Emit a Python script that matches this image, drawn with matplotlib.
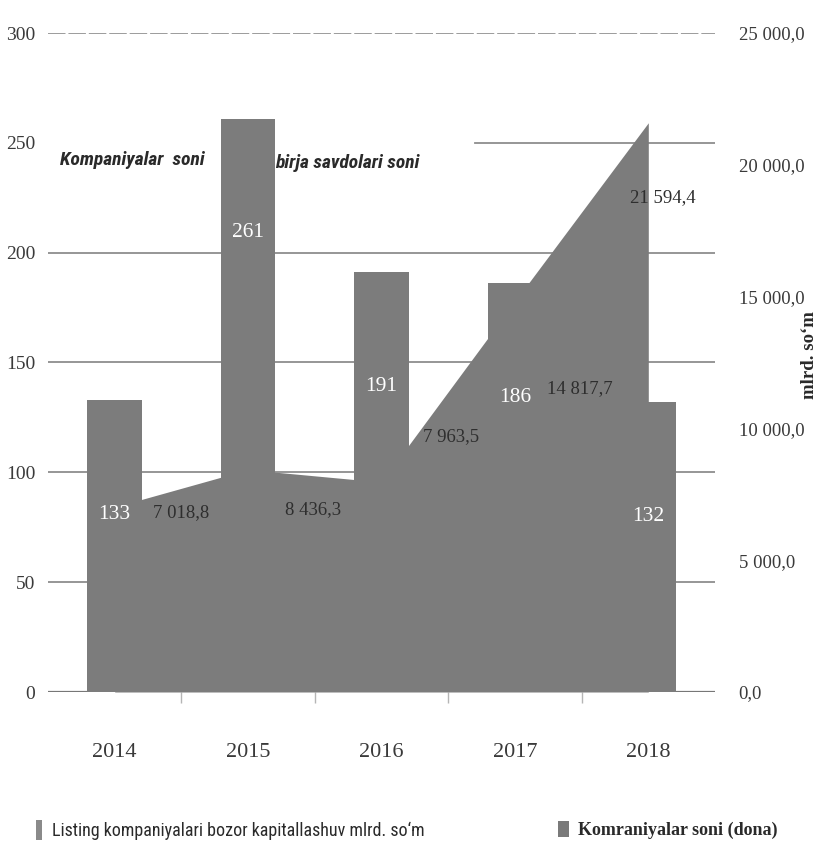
import numpy as np
import matplotlib
matplotlib.use("Agg")
import matplotlib.pyplot as plt
from matplotlib.ticker import FuncFormatter
from matplotlib.patches import Patch

# ---- data -------------------------------------------------------------
years = ["2014", "2015", "2016", "2017", "2018"]
companies = [133, 261, 191, 186, 132]                        # Kompaniyalar soni (dona)
market_cap = [7018.8, 8436.3, 7963.5, 14817.7, 21594.4]      # mlrd. so'm
left_ticks = [0, 50, 100, 150, 200, 250, 300]
right_ticks = [0, 5000, 10000, 15000, 20000, 25000]

# ---- label placement (offsets from the marks) ------------------------
bar_label_dy = -52                                    # left-axis units
cap_label_dx = [0.50, 0.49, 0.52, 0.49, 0.11]         # category units
cap_label_dy = [-230, -1530, 1710, -3290, -2820]      # right-axis units

GRAY = "#7c7c7c"
GRID = "#8e8e8e"
TXT = "#3a3a3a"
SERIF = ["DejaVu Serif Condensed", "Liberation Serif", "DejaVu Serif"]
SANS = ["Liberation Sans Narrow", "Roboto Condensed", "DejaVu Sans Condensed",
        "Open Sans", "DejaVu Sans"]


def fmt_num(v, decimals=1):
    s = f"{v:,.{decimals}f}"
    return s.replace(",", " ").replace(".", ",")


fig = plt.figure(figsize=(8.23, 8.47), dpi=100)
ax = fig.add_axes([48 / 823, 155 / 847, 667 / 823, 659 / 847])
ax2 = ax.twinx()

x = np.arange(len(years))

# bars: number of listed companies (left axis)
bars = ax.bar(x, companies, width=0.41, color=GRAY, zorder=2)
ax.set_xlim(-0.5, len(years) - 0.5)
ax.set_ylim(left_ticks[0], left_ticks[-1])

# area: market capitalisation (right axis)
area = ax2.fill_between(x, market_cap, color=GRAY, lw=0)
ax2.set_ylim(right_ticks[0], right_ticks[-1])

# horizontal gridlines
ax.set_yticks(left_ticks)
for v in left_ticks:
    if v == 0:
        ax.axhline(v, color="#777777", lw=1.6, zorder=1)
    elif v == 250:
        ax.axhline(v, xmin=0.64, color=GRID, lw=1.3, zorder=1)
    elif v == 300:
        ax.axhline(v, color="#9c9c9c", lw=1.4, ls=(0, (9, 1.5)), zorder=1)
    else:
        ax.axhline(v, color=GRID, lw=1.3, zorder=1)

for a in (ax, ax2):
    for sp in a.spines.values():
        sp.set_visible(False)
    a.patch.set_visible(False)

# axis ticks and labels
ax.tick_params(axis="y", length=0, pad=9, labelcolor=TXT)
for t in ax.get_yticklabels():
    t.set_fontfamily(SERIF)
    t.set_fontsize(14)

ax2.set_yticks(right_ticks)
ax2.yaxis.set_major_formatter(FuncFormatter(lambda v, p: fmt_num(v)))
ax2.tick_params(axis="y", length=0, pad=17, labelcolor=TXT)
for t in ax2.get_yticklabels():
    t.set_fontfamily(SERIF)
    t.set_fontsize(13.5)

ax.set_xticks(x, years)
ax.set_xticks(x[:-1] + 0.5, minor=True)
ax.tick_params(axis="x", which="major", length=0, pad=37, labelcolor=TXT)
ax.tick_params(axis="x", which="minor", length=8, width=1, color="#b5b5b5",
               direction="out")
for t in ax.get_xticklabels():
    t.set_fontfamily(SERIF)
    t.set_fontsize(16)

# value labels
for xi, v in zip(x, companies):
    ax2.text(xi, v + bar_label_dy, str(v), transform=ax.transData,
             ha="center", va="center", color="white", fontsize=15.5,
             family=SERIF, zorder=5)
for xi, v, dx, dy in zip(x, market_cap, cap_label_dx, cap_label_dy):
    ax2.text(xi + dx, v + dy, fmt_num(v), ha="center", va="center",
             color="#2e2e2e", fontsize=13.5, family=SERIF, zorder=5)

# in-chart captions
ax.text(-0.41, 242, "Kompaniyalar  soni", ha="left", va="center",
        fontsize=14, fontweight="bold", fontstyle="italic", family=SANS,
        color="#2a2a2a")
ax.text(1.20, 241, "birja savdolari soni", ha="left", va="center",
        fontsize=14, fontweight="bold", fontstyle="italic", family=SANS,
        color="#2a2a2a")

# right axis title
fig.text(810 / 823, 1 - 355 / 847, "mlrd. so\u2018m", rotation=90,
         ha="center", va="center", fontsize=13.5, fontweight="bold",
         family=SERIF, color="#2a2a2a")

# legends
h_area = Patch(facecolor="#8a8a8a", edgecolor="none")
h_bar = Patch(facecolor="#7a7a7a", edgecolor="none")
fig.legend([h_area], ["Listing kompaniyalari bozor kapitallashuv mlrd. so\u2018m"],
           loc="center left", bbox_to_anchor=(36 / 823, 1 - 830 / 847),
           frameon=False, borderpad=0, borderaxespad=0, handlelength=0.35,
           handleheight=1.3, handletextpad=0.55,
           prop={"family": SANS, "size": 13}, labelcolor="#2a2a2a")
fig.legend([h_bar], ["Komraniyalar soni (dona)"],
           loc="center left", bbox_to_anchor=(558 / 823, 1 - 830 / 847),
           frameon=False, borderpad=0, borderaxespad=0, handlelength=0.6,
           handleheight=1.0, handletextpad=0.5,
           prop={"family": SERIF, "size": 13, "weight": "bold"},
           labelcolor="#2a2a2a")

fig.savefig("out.png", dpi=100, facecolor="white")
